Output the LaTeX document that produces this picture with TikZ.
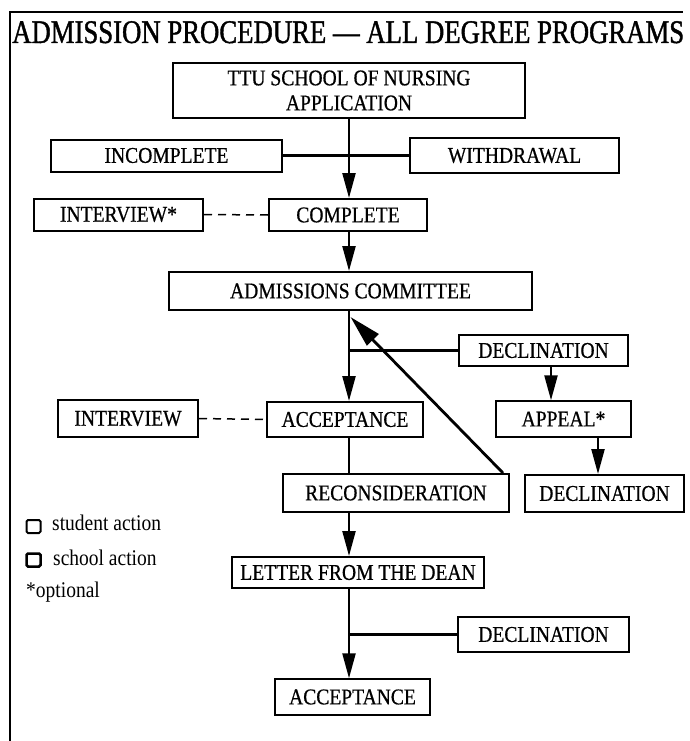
\documentclass[tikz,border=0pt]{standalone}
\usepackage{fontspec}
\setmainfont{Liberation Serif}[FakeStretch=0.87,FakeBold=0.6]
\newfontfamily\titlefont{Liberation Serif}[FakeStretch=0.81,FakeBold=1.2]
\newfontfamily\legfont{Liberation Serif}[FakeStretch=0.87]
\usetikzlibrary{arrows.meta,calc}
\begin{document}
\begin{tikzpicture}[x=1pt,y=-1pt,
  box/.style={draw, line width=2pt, inner sep=0pt, font=\fontsize{22.5}{25}\selectfont, align=center},
  thinbox/.style={box, line width=1.4pt},
  conn/.style={line width=2.3pt},
  arr/.style={conn, -{Triangle[length=25pt,width=13pt]}},
  diag/.style={line width=2.8pt, -{Triangle[length=32pt,width=16pt]}},
  dashconn/.style={line width=1.5pt, dash pattern=on 8pt off 6pt},
  legtext/.style={inner sep=0pt, anchor=base west, font=\legfont\fontsize{22.4}{25}\selectfont},
  legsq/.style={draw, rounded corners=1.5pt, inner sep=0pt, minimum width=14pt, minimum height=13pt},
]
\useasboundingbox (0,0) rectangle (690,741);
% frame
\draw[line width=2.2pt] (10,741) -- (10,12) -- (683,12);
% title
\node[anchor=base west, inner sep=0pt, font=\titlefont\fontsize{33}{36}\selectfont] (title) at (12,43) {ADMISSION PROCEDURE — ALL DEGREE PROGRAMS};

% boxes
\node[box, minimum width=352pt, minimum height=55pt] (tt) at (349,90.5) {TTU SCHOOL OF NURSING\\APPLICATION};
\node[box, minimum width=231pt, minimum height=32pt] (incomp) at (166.5,155.5) {INCOMPLETE};
\node[box, minimum width=209pt, minimum height=35pt] (withd) at (514.5,155.5) {WITHDRAWAL};
\node[box, minimum width=169pt, minimum height=32pt] (intv1) at (118.5,214.5) {INTERVIEW*};
\node[box, minimum width=158pt, minimum height=32pt] (compl) at (348,215) {COMPLETE};
\node[box, minimum width=363pt, minimum height=38pt] (adm) at (350.5,291) {ADMISSIONS COMMITTEE};
\node[box, minimum width=169pt, minimum height=31pt] (decl1) at (543.5,350.5) {DECLINATION};
\node[box, minimum width=140pt, minimum height=37pt] (intv2) at (128,418.5) {INTERVIEW};
\node[box, minimum width=156pt, minimum height=35pt] (acc) at (345,419.5) {ACCEPTANCE};
\node[thinbox, minimum width=135pt, minimum height=36pt] (appeal) at (563.5,419) {APPEAL*};
\node[box, minimum width=226pt, minimum height=38pt] (recon) at (396,493) {RECONSIDERATION};
\node[box, minimum width=159pt, minimum height=37pt] (decl2) at (604.5,493.5) {DECLINATION};
\node[box, minimum width=252pt, minimum height=31pt] (letter) at (358,572.5) {LETTER FROM THE DEAN};
\node[box, minimum width=171pt, minimum height=35pt] (decl3) at (543.5,634.5) {DECLINATION};
\node[thinbox, minimum width=155pt, minimum height=36pt] (acc2) at (352.5,697) {ACCEPTANCE};

% legend
\node[legsq, line width=2pt] (ls1) at (33.5,526.5) {};
\node[legtext] (lt1) at (52,530) {student action};
\node[legsq, line width=2.5pt] (ls2) at (33.5,560) {};
\node[legtext] (lt2) at (53,565) {school action};
\node[legtext] (lt3) at (26,597) {*optional};

% connectors
\draw[arr] (tt.south) -- (compl.north -| tt.south);
\draw[conn] (incomp.east) -- (withd.west);
\draw[dashconn] (intv1.east) -- (compl.west);
\draw[arr] (compl.south -| tt.south) -- (adm.north -| tt.south);
\draw[arr] (adm.south -| tt.south) -- (acc.north -| tt.south);
\draw[conn] (decl1.west) -- (decl1.west -| tt.south);
\coordinate (p1) at ([xshift=7.5pt]decl1.south);
\draw[arr] (p1) -- (p1 |- appeal.north);
\coordinate (p2) at ([xshift=-6.5pt]decl2.north);
\draw[arr] (p2 |- appeal.south) -- (p2);
\draw[dashconn] (intv2.east) -- (acc.west);
\draw[conn] (acc.south -| tt.south) -- (recon.north -| tt.south);
\coordinate (dbot) at ([xshift=-7pt]recon.north east);
\coordinate (dtop) at ([yshift=-6pt]adm.south);
\draw[diag] (dbot) -- (dtop);
\draw[arr] (recon.south -| tt.south) -- (letter.north -| tt.south);
\draw[arr] (letter.south -| tt.south) -- (acc2.north -| tt.south);
\draw[conn] (decl3.west) -- (decl3.west -| tt.south);
\end{tikzpicture}
\end{document}
